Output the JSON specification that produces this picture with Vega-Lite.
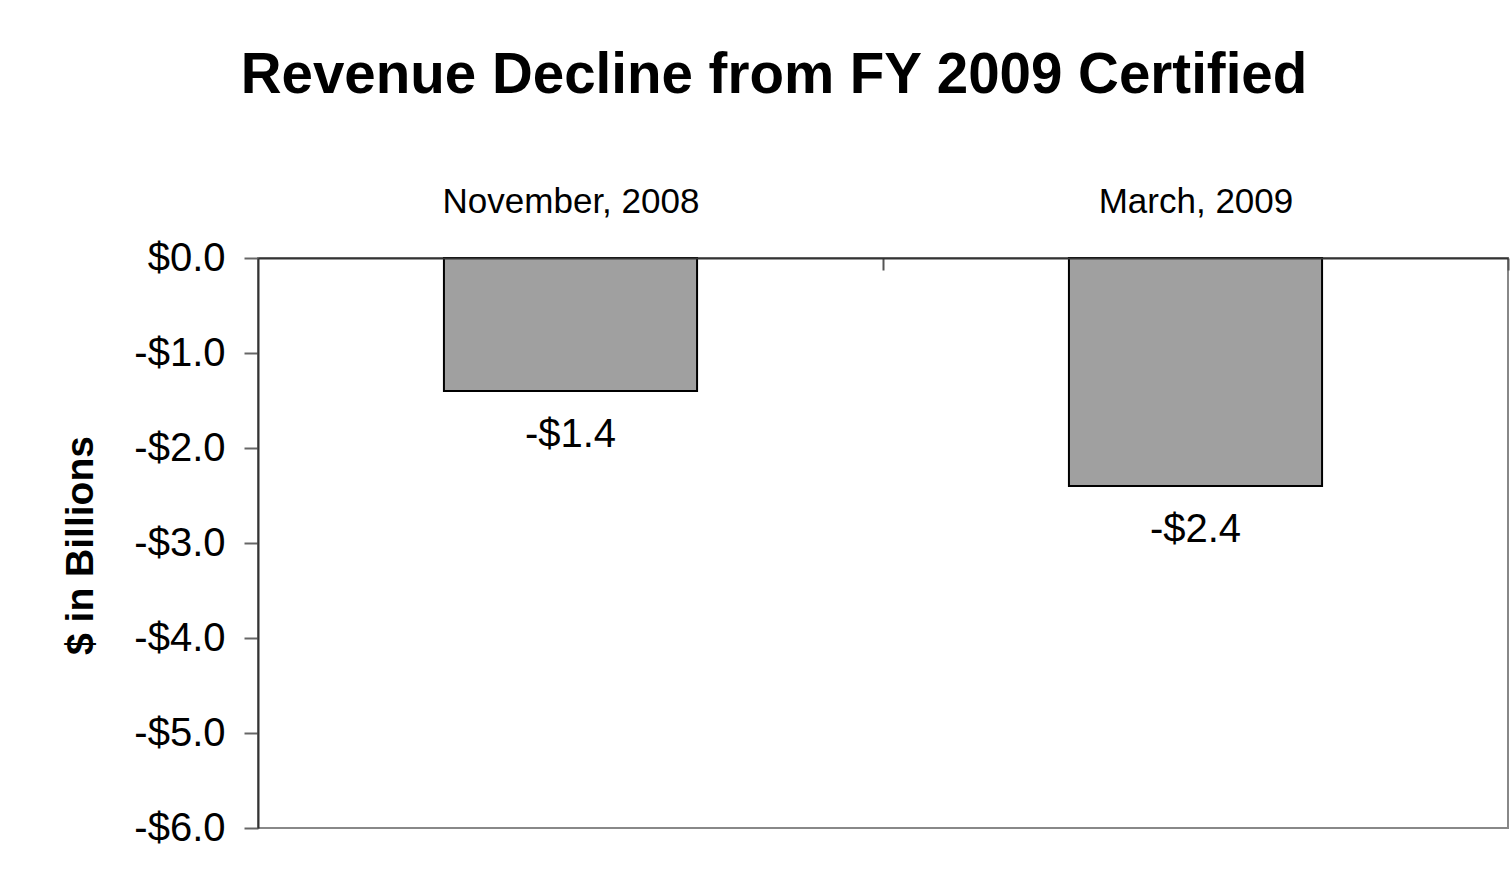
{
  "$schema": "https://vega.github.io/schema/vega-lite/v6.json",
  "autosize": {"type": "none"},
  "padding": {"left": 258, "top": 258, "right": 3, "bottom": 59},
  "width": 1250,
  "height": 570,
  "background": "white",
  "title": {
    "text": "Revenue Decline from FY 2009 Certified",
    "font": "Liberation Sans",
    "fontSize": 56.5,
    "fontWeight": "bold",
    "color": "black",
    "anchor": "middle",
    "frame": "group",
    "dx": -109,
    "offset": 80
  },
  "data": {
    "values": [
      {"period": "November, 2008", "value": -1.4, "label": "-$1.4"},
      {"period": "March, 2009", "value": -2.4, "label": "-$2.4"}
    ]
  },
  "encoding": {
    "x": {
      "field": "period",
      "type": "nominal",
      "sort": null,
      "scale": {"paddingInner": 0.595, "paddingOuter": 0.2975},
      "axis": {
        "orient": "top",
        "title": null,
        "labelAngle": 0,
        "labelLimit": 0,
        "labelFont": "Liberation Sans",
        "labelFontSize": 35,
        "labelColor": "black",
        "labelBaseline": "alphabetic",
        "labelPadding": 58,
        "labelOffset": -312.5,
        "ticks": true,
        "tickSize": -12,
        "tickOffset": 312.5,
        "tickColor": "#555555",
        "tickWidth": 2,
        "domainColor": "#333333",
        "domainWidth": 2,
        "grid": false,
        "zindex": 1
      }
    }
  },
  "layer": [
    {
      "mark": {"type": "bar", "fill": "#a0a0a0", "stroke": "black", "strokeWidth": 2},
      "encoding": {
        "y": {
          "field": "value",
          "type": "quantitative",
          "scale": {"domain": [-6, 0], "nice": false},
          "axis": {
            "title": "$ in Billions",
            "titleFont": "Liberation Sans",
            "titleFontSize": 39,
            "titleFontWeight": "bold",
            "titleColor": "black",
            "titleAngle": -90,
            "titleBaseline": "alphabetic",
            "titleX": -166,
            "titleY": 287,
            "titleAlign": "center",
            "values": [0, -1, -2, -3, -4, -5, -6],
            "labelExpr": "datum.value < 0 ? '-$' + format(-datum.value, '.1f') : '$' + format(datum.value, '.1f')",
            "labelFont": "Liberation Sans",
            "labelFontSize": 40,
            "labelColor": "black",
            "labelPadding": 19,
            "tickSize": 14,
            "tickColor": "#666666",
            "tickWidth": 2,
            "domainColor": "#333333",
            "domainWidth": 2,
            "grid": false
          }
        }
      }
    },
    {
      "mark": {
        "type": "text",
        "font": "Liberation Sans",
        "fontSize": 40,
        "color": "black",
        "baseline": "alphabetic",
        "align": "center",
        "dy": 56
      },
      "encoding": {
        "y": {"field": "value", "type": "quantitative"},
        "text": {"field": "label"}
      }
    }
  ],
  "config": {
    "view": {"stroke": "#888888", "strokeWidth": 2}
  }
}
